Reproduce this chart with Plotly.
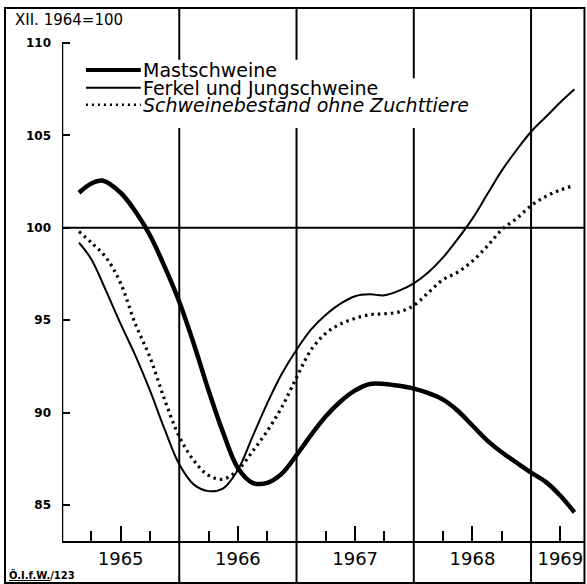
import plotly.graph_objects as go

# ---- data (time in decimal years, index XII.1964 = 100) ----
mast_t = [1965.145, 1965.25, 1965.35, 1965.5, 1965.625, 1965.75, 1965.875, 1966.0, 1966.125,
          1966.25, 1966.375, 1966.5, 1966.625, 1966.75, 1966.875, 1967.0, 1967.125, 1967.25,
          1967.375, 1967.5, 1967.625, 1967.75, 1967.875, 1968.0, 1968.125, 1968.25, 1968.375,
          1968.5, 1968.625, 1968.75, 1968.875, 1969.0, 1969.125, 1969.25, 1969.37]
mast_v = [101.9, 102.4, 102.55, 101.9, 100.9, 99.6, 97.9, 96.0, 93.7,
          91.2, 88.9, 87.0, 86.2, 86.2, 86.7, 87.7, 88.8, 89.8,
          90.6, 91.2, 91.55, 91.55, 91.45, 91.3, 91.05, 90.7, 90.1,
          89.3, 88.5, 87.85, 87.3, 86.75, 86.25, 85.5, 84.6]

ferkel_t = [1965.145, 1965.25, 1965.375, 1965.5, 1965.625, 1965.75, 1965.875, 1966.0, 1966.125,
            1966.25, 1966.375, 1966.5, 1966.625, 1966.75, 1966.875, 1967.0, 1967.125, 1967.25,
            1967.375, 1967.5, 1967.625, 1967.75, 1967.875, 1968.0, 1968.125, 1968.25, 1968.375,
            1968.5, 1968.625, 1968.75, 1968.875, 1969.0, 1969.125, 1969.25, 1969.37]
ferkel_v = [99.2, 98.3, 96.6, 94.8, 93.1, 91.2, 89.1, 87.2, 86.1,
            85.75, 85.9, 86.9, 88.7, 90.5, 92.1, 93.4, 94.5, 95.3,
            95.9, 96.3, 96.4, 96.35, 96.6, 97.0, 97.6, 98.4, 99.4,
            100.5, 101.8, 103.1, 104.2, 105.2, 106.0, 106.8, 107.5]

bestand_t = [1965.145, 1965.25, 1965.375, 1965.5, 1965.625, 1965.75, 1965.875, 1966.0, 1966.125,
             1966.25, 1966.375, 1966.5, 1966.625, 1966.75, 1966.875, 1967.0, 1967.125, 1967.25,
             1967.375, 1967.5, 1967.625, 1967.75, 1967.875, 1968.0, 1968.125, 1968.25, 1968.375,
             1968.5, 1968.625, 1968.75, 1968.875, 1969.0, 1969.125, 1969.25, 1969.37]
bestand_v = [99.8, 99.2, 98.4, 97.0, 94.8, 93.0, 90.7, 88.7, 87.4,
             86.6, 86.4, 86.9, 87.9, 89.0, 90.3, 91.9, 93.4, 94.3,
             94.8, 95.1, 95.3, 95.35, 95.45, 95.8, 96.5, 97.2, 97.6,
             98.2, 99.0, 99.9, 100.5, 101.2, 101.7, 102.05, 102.3]

series_names = ["Mastschweine", "Ferkel und Jungschweine", "Schweinebestand ohne Zuchttiere"]

y_ticks = [85, 90, 95, 100, 105, 110]
y_ticktext = ["85", "90", "95", "100", "105", "110"]
year_lines = [1966, 1967, 1968, 1969]
year_label_pos = [1965.5, 1966.5, 1967.5, 1968.5, 1969.25]
year_labels = ["1965", "1966", "1967", "1968", "1969"]
quarter_ticks = [1965.25, 1965.75, 1966.25, 1966.75, 1967.25, 1967.75, 1968.25, 1968.75]

X_MIN, X_MAX = 1965.0, 1969.46
Y_MIN, Y_MAX = 83.05, 111.9

FONT = "DejaVu Sans"

fig = go.Figure()

fig.add_trace(go.Scatter(x=mast_t, y=mast_v, mode="lines", name=series_names[0],
                         line=dict(color="black", width=4.5, shape="spline", smoothing=1.0)))
fig.add_trace(go.Scatter(x=ferkel_t, y=ferkel_v, mode="lines", name=series_names[1],
                         line=dict(color="black", width=2, shape="spline", smoothing=1.0)))
fig.add_trace(go.Scatter(x=bestand_t, y=bestand_v, mode="lines", name=series_names[2],
                         line=dict(color="black", width=3.2, dash="2.5px,4px", shape="spline", smoothing=1.0)))

shapes = []
# outer frame
shapes.append(dict(type="rect", xref="paper", yref="paper", x0=-0.109, x1=0.999, y0=-0.0788, y1=1.0,
                   line=dict(color="black", width=2), fillcolor="rgba(0,0,0,0)", layer="below"))
# year divider lines
for yl in year_lines:
    shapes.append(dict(type="line", xref="x", yref="paper", x0=yl, x1=yl, y0=-0.0788, y1=1.0,
                       line=dict(color="black", width=2), layer="below"))
# white backing of legend (interrupts divider lines)
shapes.append(dict(type="rect", xref="x", yref="y", x0=1965.15, x1=1967.2, y0=105.4, y1=109.1,
                   line=dict(width=0), fillcolor="white", layer="below"))
shapes.append(dict(type="rect", xref="x", yref="y", x0=1967.2, x1=1968.3, y0=105.4, y1=108.1,
                   line=dict(width=0), fillcolor="white", layer="below"))
# 100 reference line
shapes.append(dict(type="line", xref="x", yref="y", x0=X_MIN, x1=X_MAX, y0=100, y1=100,
                   line=dict(color="black", width=2), layer="below"))
# y axis line
shapes.append(dict(type="line", xref="x", yref="y", x0=X_MIN, x1=X_MIN, y0=Y_MIN, y1=110,
                   line=dict(color="black", width=2.5), layer="below"))

# legend sample lines
leg_x0, leg_x1 = 1965.204, 1965.672
leg_y = [108.55, 107.58, 106.66]
leg_styles = [dict(color="black", width=4), dict(color="black", width=2),
              dict(color="black", width=2.5, dash="2px,4px")]
for yy, st in zip(leg_y, leg_styles):
    shapes.append(dict(type="line", xref="x", yref="y", x0=leg_x0, x1=leg_x1, y0=yy, y1=yy,
                       line=st, layer="above"))

annotations = []
for i, (nm, yy) in enumerate(zip(series_names, leg_y)):
    txt = nm if i < 2 else "<i>" + nm + "</i>"
    annotations.append(dict(x=1965.675, y=yy, xref="x", yref="y", text=txt, showarrow=False,
                            xanchor="left", yanchor="middle",
                            font=dict(family=FONT, size=19, color="black")))
annotations.append(dict(x=-0.094, y=0.977, xref="paper", yref="paper", text="XII. 1964=100",
                        showarrow=False, xanchor="left", yanchor="middle",
                        font=dict(family=FONT, size=15, color="black")))
annotations.append(dict(x=-0.105, y=-0.063, xref="paper", yref="paper",
                        text="<u>Ö.I.f.W.</u>/123",
                        showarrow=False, xanchor="left", yanchor="middle",
                        font=dict(family=FONT, size=10, color="black", weight="bold")))

fig.update_layout(
    width=587, height=584,
    margin=dict(l=62, r=2, t=8, b=43),
    paper_bgcolor="white", plot_bgcolor="white",
    showlegend=False,
    shapes=shapes, annotations=annotations,
    xaxis=dict(range=[X_MIN, X_MAX], showgrid=False, zeroline=False,
               showline=True, linecolor="black", linewidth=2,
               tickmode="array", tickvals=year_label_pos, ticktext=year_labels,
               ticks="inside", ticklen=15, tickwidth=2, tickcolor="black",
               ticklabelstandoff=0,
               tickfont=dict(family=FONT, size=18, color="black"),
               minor=dict(tickmode="array", tickvals=quarter_ticks, ticks="inside",
                          ticklen=10, tickwidth=2, tickcolor="black")),
    yaxis=dict(range=[Y_MIN, Y_MAX], showgrid=False, zeroline=False, showline=False,
               tickmode="array", tickvals=y_ticks, ticktext=y_ticktext,
               ticks="inside", ticklen=8, tickwidth=2, tickcolor="black",
               ticklabelstandoff=10,
               tickfont=dict(family=FONT, size=12, color="black", weight="bold")),
)

fig.write_html("out.html", config={"displayModeBar": False},
               post_script="document.body.style.margin='0';document.body.style.overflow='hidden';")
